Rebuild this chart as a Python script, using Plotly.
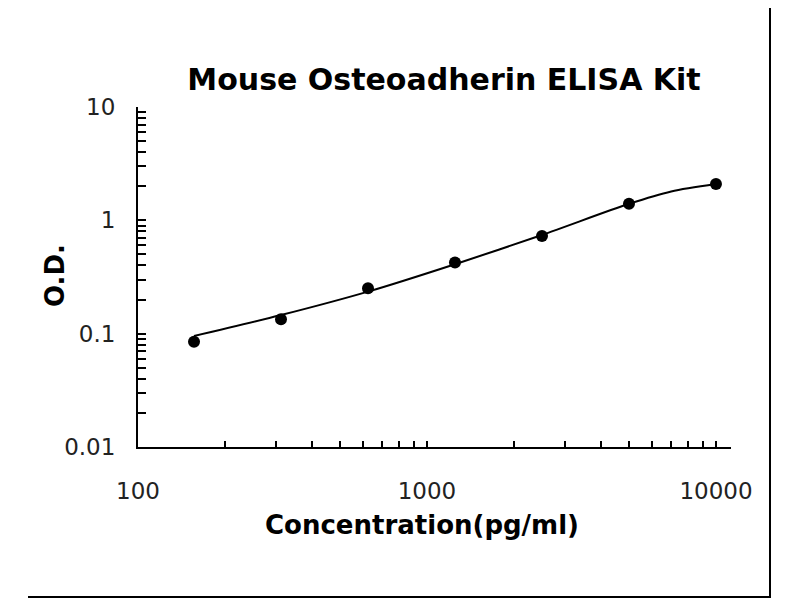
import plotly.graph_objects as go

# ---- data ----
conc = [156.25, 312.5, 625, 1250, 2500, 5000, 10000]
od = [0.085, 0.134, 0.252, 0.424, 0.728, 1.40, 2.09]

curve_conc = [156.25, 312.5, 625, 1250, 2500, 5000, 7000, 10000]
curve_od = [0.0955, 0.146, 0.235, 0.41, 0.743, 1.40, 1.80, 2.09]

x_tickvals = [100, 200, 300, 400, 500, 600, 700, 800, 900,
              1000, 2000, 3000, 4000, 5000, 6000, 7000, 8000, 9000, 10000]
x_ticktext = ["100", "", "", "", "", "", "", "", "",
              "1000", "", "", "", "", "", "", "", "", "10000"]
y_tickvals = [0.01, 0.02, 0.03, 0.04, 0.05, 0.06, 0.07, 0.08, 0.09,
              0.1, 0.2, 0.3, 0.4, 0.5, 0.6, 0.7, 0.8, 0.9,
              1, 2, 3, 4, 5, 6, 7, 8, 9, 10]
y_ticktext = ["0.01", "", "", "", "", "", "", "", "",
              "0.1", "", "", "", "", "", "", "", "",
              "1", "", "", "", "", "", "", "", "", "10"]

title_text = "Mouse Osteoadherin ELISA Kit"
x_title = "Concentration(pg/ml)"
y_title = "O.D."

# ---- layout geometry (pixels, screen coordinates of the reference) ----
OFF = 8  # page body margin offset
W, H = 800, 600
L, R, T, B = 138 - OFF, 69 + OFF, 107 - OFF, 153 + OFF
PW, PH = W - L - R, H - T - B


def px(xs):
    return (xs - OFF - L) / PW


def py(ys):
    return (H - B - (ys - OFF)) / PH


fig = go.Figure()
fig.add_trace(go.Scatter(
    x=curve_conc, y=curve_od, mode="lines",
    line=dict(color="black", width=2, shape="spline", smoothing=0.8),
    hoverinfo="skip", showlegend=False))
fig.add_trace(go.Scatter(
    x=conc, y=od, mode="markers",
    marker=dict(color="black", size=12, symbol="circle"),
    showlegend=False))

font_reg = "DejaVu Sans, Liberation Sans, Arial, sans-serif"

fig.update_layout(
    width=W, height=H,
    margin=dict(l=L, r=R, t=T, b=B, pad=0),
    paper_bgcolor="white", plot_bgcolor="white",
    title=dict(text="<b>" + title_text + "</b>", x=(444 - OFF) / W, xanchor="center",
               y=1 - (79 - OFF) / H, yanchor="middle", yref="container",
               font=dict(family=font_reg, size=30, color="black")),
    xaxis=dict(type="log", range=[2, 4.052], showgrid=False, zeroline=False,
               showline=True, linecolor="black", linewidth=2,
               ticks="inside", ticklen=6, tickwidth=2, tickcolor="black",
               tickvals=x_tickvals, ticktext=x_ticktext,
               ticklabelstandoff=22,
               tickfont=dict(family=font_reg, size=23, color="#222")),
    yaxis=dict(type="log", range=[-2, 1], showgrid=False, zeroline=False,
               showline=True, linecolor="black", linewidth=2,
               ticks="inside", ticklen=8, tickwidth=2, tickcolor="black",
               tickvals=y_tickvals, ticktext=y_ticktext,
               ticklabelstandoff=16,
               tickfont=dict(family=font_reg, size=23, color="#222")),
    annotations=[
        dict(text="<b>" + x_title + "</b>", xref="paper", yref="paper",
             x=px(422), y=py(525), xanchor="center", yanchor="middle",
             showarrow=False, font=dict(family=font_reg, size=26, color="black")),
        dict(text="<b>" + y_title + "</b>", xref="paper", yref="paper",
             x=px(55), y=py(276), xanchor="center", yanchor="middle",
             textangle=-90, showarrow=False,
             font=dict(family=font_reg, size=26, color="black")),
    ],
    shapes=[
        dict(type="line", xref="paper", yref="paper",
             x0=px(770), x1=px(770), y0=py(0), y1=py(598),
             line=dict(color="black", width=2)),
        dict(type="line", xref="paper", yref="paper",
             x0=px(28), x1=px(770), y0=py(597), y1=py(597),
             line=dict(color="black", width=2)),
    ],
)

fig.write_html("out.html")
